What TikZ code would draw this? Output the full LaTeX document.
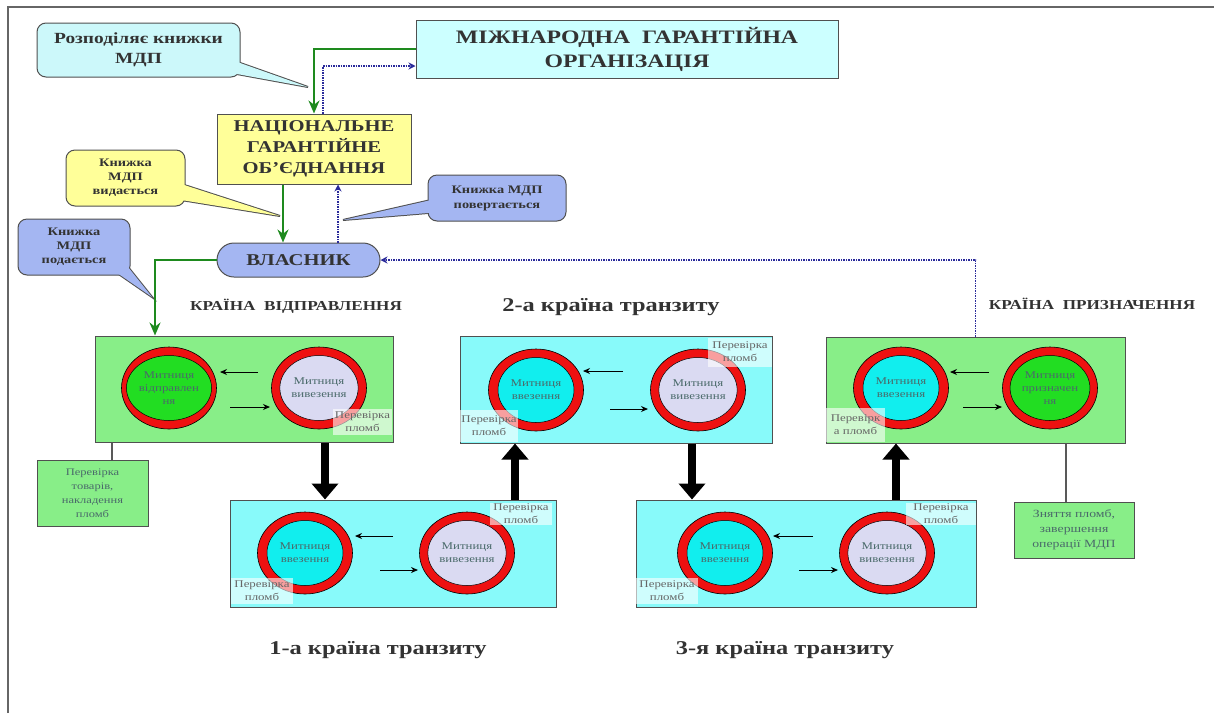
\documentclass[tikz,border=0pt]{standalone}
\usepackage{fontspec}
\setmainfont{Liberation Serif}[FakeStretch=1.25]
\usetikzlibrary{arrows.meta,shapes.geometric}
\definecolor{cyanlt}{HTML}{CCF8FA}
\definecolor{mgofill}{HTML}{CCFFFF}
\definecolor{yel}{HTML}{FFFF99}
\definecolor{blu}{HTML}{A4B6F2}
\definecolor{grn}{HTML}{88EE88}
\definecolor{cyn}{HTML}{88FAFA}
\definecolor{ringred}{HTML}{EE1111}
\definecolor{ingreen}{HTML}{22DD22}
\definecolor{incyan}{HTML}{11EEEE}
\definecolor{inlav}{HTML}{DADAF2}
\definecolor{arrgreen}{HTML}{1E8A1E}
\definecolor{arrblue}{HTML}{2A2A9A}
\definecolor{txtdark}{HTML}{333333}
\definecolor{txtteal}{HTML}{4A6A6A}
\definecolor{edge}{HTML}{505050}
\newcommand\fsz[2]{\fontsize{#1pt}{#2pt}\selectfont}
\newcommand\mitring[6]{%
  \node[ringo] (#1) at (#2,#3) {};
  \node[ringi,fill=#4] (#1i) at (#2,#3) {#5};
}
\tikzset{
  box/.style={draw=edge, line width=1pt, inner sep=0pt, align=center, text=txtdark},
  cbox/.style={box, rounded corners=9pt},
  country/.style={draw=edge, line width=1pt, inner sep=0pt},
  ringo/.style={ellipse, draw=black, line width=0.6pt, fill=ringred, minimum width=95pt, minimum height=82pt, inner sep=0pt},
  ringi/.style={ellipse, draw=black, line width=0.5pt, minimum width=76pt, minimum height=65pt, inner sep=0pt, align=center, text=txtteal, font=\fsz{10.3}{13}},
  chk/.style={fill=white, fill opacity=0.6, text opacity=1, text=gray!80!black, inner sep=0pt, align=center, font=\fsz{10.3}{13}},
  lab/.style={draw=edge, line width=1pt, fill=grn, inner sep=0pt, align=center, text=txtteal},
  garrow/.style={draw=arrgreen, line width=2pt, -{Stealth[length=13pt,width=11pt]}},
  barrow/.style={draw=arrblue, line width=1.5pt, densely dotted, -{Stealth[length=7pt,width=7pt]}},
  smarrow/.style={line width=1pt, -{Stealth[length=7pt,width=6pt]}},
  bigarrow/.style={line width=8pt, -{Triangle[length=16pt,width=26pt]}},
  lead/.style={draw=gray!70!black, line width=1.2pt},
  title/.style={font=\bfseries\fsz{19.5}{22}, text=txtdark},
  ctitle/.style={font=\bfseries\fsz{13.7}{16}, text=txtdark},
  tailline/.style={draw=edge, line width=2pt}
}
\begin{document}
\begin{tikzpicture}[x=1pt,y=-1pt]
\useasboundingbox (0,0) rectangle (1214,713);
\fill[white] (0,0) rectangle (1214,713);
\draw[gray!80!black, line width=1.5pt] (8,713) -- (8,7) -- (1214,7);

% ---- top boxes
\node[box, fill=mgofill, minimum width=422pt, minimum height=58pt, font=\bfseries\fsz{19}{24}] (mgo) at (627,49) {МІЖНАРОДНА\ \ ГАРАНТІЙНА\\ОРГАНІЗАЦІЯ};
\node[box, fill=yel, minimum width=194pt, minimum height=70pt, font=\bfseries\fsz{16.5}{21}] (ngo) at (314,149) {НАЦІОНАЛЬНЕ\\ГАРАНТІЙНЕ\\ОБ’ЄДНАННЯ};
\node[box, fill=blu, rounded corners=17pt, minimum width=163pt, minimum height=34pt, font=\bfseries\fsz{16.5}{21}] (vlas) at (298.5,260) {ВЛАСНИК};

% ---- callouts
\coordinate (c1tip) at (308,87);
\coordinate (c2tip) at (280,216);
\coordinate (c3tip) at (343,220);
\coordinate (c4tip) at (152,297);
\draw[tailline, fill=cyanlt] (226,58) -- (c1tip) -- (226,72) -- cycle;
\draw[tailline, fill=yel] (175,182) -- (c2tip) -- (175,199) -- cycle;
\draw[tailline, fill=blu] (440,198) -- (c3tip) -- (440,212) -- cycle;
\draw[tailline, fill=blu] (110,268) -- (c4tip) -- (124,262) -- cycle;
\node[cbox, fill=cyanlt, minimum width=203pt, minimum height=54pt, font=\bfseries\fsz{15.5}{20}] (c1) at (138.5,50) {Розподіляє книжки\\МДП};
\node[cbox, fill=yel, minimum width=119pt, minimum height=56pt, font=\bfseries\fsz{11.5}{14}] (c2) at (125.5,178) {Книжка\\МДП\\видається};
\node[cbox, fill=blu, minimum width=138pt, minimum height=46pt, font=\bfseries\fsz{11.5}{15}] (c3) at (497,198) {Книжка МДП\\повертається};
\node[cbox, fill=blu, minimum width=112pt, minimum height=56pt, font=\bfseries\fsz{11.5}{14}] (c4) at (74,247) {Книжка\\МДП\\подається};
\fill[cyanlt] (226,58) -- (c1tip) -- (226,72) -- cycle;
\fill[yel] (175,182) -- (c2tip) -- (175,199) -- cycle;
\fill[blu] (440,198) -- (c3tip) -- (440,212) -- cycle;
\fill[blu] (110,268) -- (c4tip) -- (124,262) -- cycle;

% ---- country boxes
\node[country, fill=grn, minimum width=298pt, minimum height=106pt] (disp) at (244,389) {};
\node[country, fill=cyn, minimum width=326pt, minimum height=107pt] (t1) at (393,553.5) {};
\node[country, fill=cyn, minimum width=312pt, minimum height=107pt] (t2) at (616,389.5) {};
\node[country, fill=cyn, minimum width=340pt, minimum height=107pt] (t3) at (806,553.5) {};
\node[country, fill=grn, minimum width=299pt, minimum height=106pt] (dest) at (975.5,390) {};

% ---- customs rings
\mitring{dL}{169}{388}{ingreen}{Митниця\\відправлен\\ня}{}
\mitring{dR}{319}{388}{inlav}{Митниця\\вивезення}{}
\mitring{aL}{305}{553}{incyan}{Митниця\\ввезення}{}
\mitring{aR}{467}{553}{inlav}{Митниця\\вивезення}{}
\mitring{bL}{536}{390}{incyan}{Митниця\\ввезення}{}
\mitring{bR}{698}{390}{inlav}{Митниця\\вивезення}{}
\mitring{cL}{725}{553}{incyan}{Митниця\\ввезення}{}
\mitring{cR}{887}{553}{inlav}{Митниця\\вивезення}{}
\mitring{eL}{901}{388}{incyan}{Митниця\\ввезення}{}
\mitring{eR}{1050}{388}{ingreen}{Митниця\\призначен\\ня}{}

% ---- small arrows between rings
\coordinate (d1a) at (258,372); \coordinate (d1b) at (220,372);
\coordinate (d2a) at (230,407); \coordinate (d2b) at (270,407);
\coordinate (a1a) at (393,536); \coordinate (a1b) at (355,536);
\coordinate (a2a) at (380,570); \coordinate (a2b) at (418,570);
\coordinate (b1a) at (623,371); \coordinate (b1b) at (583,371);
\coordinate (b2a) at (610,409); \coordinate (b2b) at (648,409);
\coordinate (e3a) at (813,536); \coordinate (e3b) at (773,536);
\coordinate (e4a) at (799,570); \coordinate (e4b) at (838,570);
\coordinate (f1a) at (989,372); \coordinate (f1b) at (950,372);
\coordinate (f2a) at (963,407); \coordinate (f2b) at (1002,407);
\foreach \p in {d1,d2,a1,a2,b1,b2,e3,e4,f1,f2}{\draw[smarrow] (\p a) -- (\p b);}

% ---- seal-check labels
\node[chk, minimum width=59pt, minimum height=26pt] (k1) at (362.5,422) {Перевірка\\пломб};
\node[chk, minimum width=62pt, minimum height=22pt] (k2) at (521,514) {Перевірка\\пломб};
\node[chk, minimum width=62pt, minimum height=26pt] (k3) at (262,591) {Перевірка\\пломб};
\node[chk, minimum width=64pt, minimum height=29pt] (k4) at (740,352) {Перевірка\\пломб};
\node[chk, minimum width=58pt, minimum height=32pt] (k5) at (489,426) {Перевірка\\пломб};
\node[chk, minimum width=70pt, minimum height=22pt] (k6) at (941,514) {Перевірка\\пломб};
\node[chk, minimum width=62pt, minimum height=26pt] (k7) at (667,591) {Перевірка\\пломб};
\node[chk, minimum width=59pt, minimum height=34pt] (k8) at (855.5,425) {Перевірк\\а пломб};

% ---- side labels
\node[lab, minimum width=111pt, minimum height=66pt, font=\fsz{10}{14}] (l1) at (92.5,493) {Перевірка\\товарів,\\накладення\\пломб};
\node[lab, minimum width=120pt, minimum height=56pt, font=\fsz{11}{15}] (l2) at (1074,530) {Зняття пломб,\\завершення\\операції МДП};
\draw[lead] (disp.south -| 112,0) -- (l1.north -| 112,0);
\draw[lead] (dest.south -| 1066,0) -- (l2.north -| 1066,0);

% ---- big arrows
\draw[bigarrow] (disp.south -| 325,0) -- (t1.north -| 325,0);
\draw[bigarrow] (t1.north -| 515,0) -- (t2.south -| 515,0);
\draw[bigarrow] (t2.south -| 692,0) -- (t3.north -| 692,0);
\draw[bigarrow] (t3.north -| 896,0) -- (dest.south -| 896,0);

% ---- green and blue connectors
\draw[garrow] (mgo.west) -| (ngo.north);
\draw[barrow] (ngo.north -| 323,0) |- (mgo.west |- 0,66);
\draw[garrow] (ngo.south -| 283,0) -- (vlas.north -| 283,0);
\draw[barrow] (vlas.north -| 338,0) -- (ngo.south -| 338,0);
\draw[garrow] (vlas.west) -| (disp.north -| 155,0);
\draw[barrow] (dest.north) |- (vlas.east);

% ---- titles
\node[ctitle] (tdisp) at (296,306) {КРАЇНА\ \ ВІДПРАВЛЕННЯ};
\node[ctitle] (tdest) at (1092,304) {КРАЇНА\ \ ПРИЗНАЧЕННЯ};
\node[title] (tt2) at (611,307) {2-а країна транзиту};
\node[title] (tt1) at (378,650) {1-а країна транзиту};
\node[title] (tt3) at (785,650) {3-я країна транзиту};
\end{tikzpicture}
\end{document}
